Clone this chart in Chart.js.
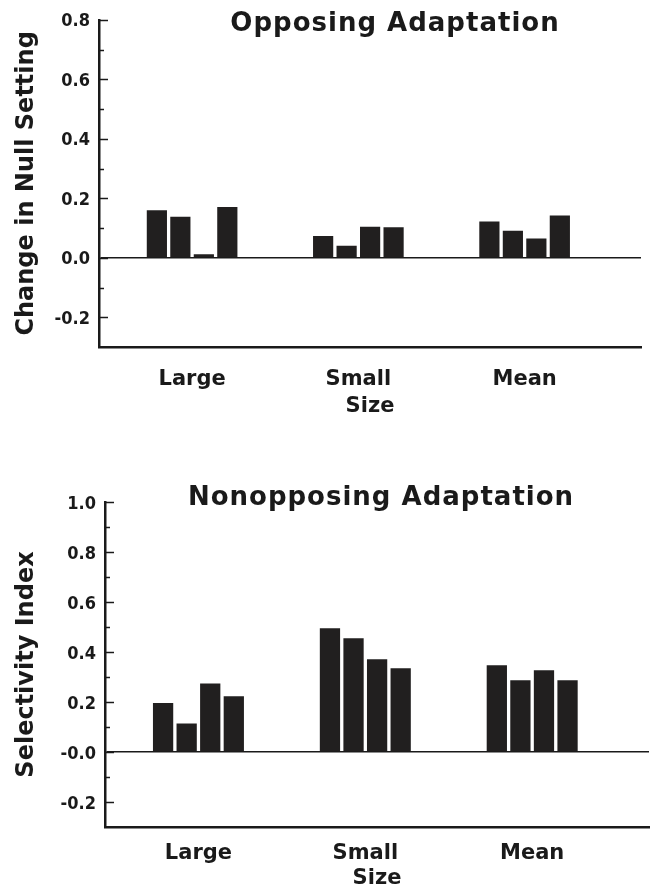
<!DOCTYPE html>
<html>
<head>
<meta charset="utf-8">
<title>Opposing and Nonopposing Adaptation</title>
<script src="https://cdn.jsdelivr.net/npm/chart.js@4.4.1/dist/chart.umd.min.js"></script>
<style>
  html, body { margin: 0; padding: 0; background: #fff; }
  body { width: 652px; height: 896px; position: relative; overflow: hidden; }
  .panel { position: absolute; left: 0; width: 652px; }
  #topPanel { top: 0; height: 440px; }
  #bottomPanel { top: 440px; height: 456px; }
</style>
</head>
<body>
<div class="panel" id="topPanel"><canvas id="opposingChart" width="652" height="440"></canvas></div>
<div class="panel" id="bottomPanel"><canvas id="nonopposingChart" width="652" height="456"></canvas></div>
<script>
// x categories and the four bars drawn in each group
const sizes = ['Large', 'Small', 'Mean'];
const observers = ['Observer 1', 'Observer 2', 'Observer 3', 'Observer 4'];

// Opposing adaptation - change in null setting
const opposing1 = [0.160, 0.073, 0.122];
const opposing2 = [0.138, 0.040, 0.091];
const opposing3 = [0.012, 0.104, 0.065];
const opposing4 = [0.171, 0.103, 0.142];

// Nonopposing adaptation - selectivity index
const nonopposing1 = [0.196, 0.495, 0.347];
const nonopposing2 = [0.114, 0.455, 0.287];
const nonopposing3 = [0.274, 0.371, 0.327];
const nonopposing4 = [0.223, 0.335, 0.287];

// y axis ticks
const opposingTicks = [-0.2, 0.0, 0.2, 0.4, 0.6, 0.8];
const opposingTickLabels = ['-0.2', '0.0', '0.2', '0.4', '0.6', '0.8'];
const opposingMinorTicks = [-0.1, 0.1, 0.3, 0.5, 0.7];
const nonopposingTicks = [-0.2, 0.0, 0.2, 0.4, 0.6, 0.8, 1.0];
const nonopposingTickLabels = ['-0.2', '-0.0', '0.2', '0.4', '0.6', '0.8', '1.0'];
const nonopposingMinorTicks = [-0.1, 0.1, 0.3, 0.5, 0.7, 0.9];

const ink = '#1a1a1a';
const barColor = '#211f1f';

Chart.defaults.font.family = '"DejaVu Sans", sans-serif';
Chart.defaults.font.weight = 'bold';
Chart.defaults.color = ink;

// small tick marks pointing into the plot, long for labelled values
const inwardTicks = {
    id: 'inwardTicks',
    afterDatasetsDraw(chart) {
        const y = chart.scales.y;
        const left = chart.chartArea.left;
        const ctx = chart.ctx;
        ctx.save();
        ctx.strokeStyle = ink;
        ctx.lineWidth = 1.5;
        y.ticks.forEach(t => {
            const major = t.label !== '' && t.label != null;
            const py = Math.round(y.getPixelForValue(t.value)) + 0.5;
            ctx.beginPath();
            ctx.moveTo(left, py);
            ctx.lineTo(left + (major ? 9 : 5), py);
            ctx.stroke();
        });
        ctx.restore();
    }
};

// panel heading drawn inside the plot area
const panelTitle = {
    id: 'panelTitle',
    afterDraw(chart, args, opts) {
        const ctx = chart.ctx;
        ctx.save();
        ctx.font = 'bold 26px "DejaVu Sans"';
        if ('letterSpacing' in ctx) ctx.letterSpacing = '1px';
        ctx.fillStyle = ink;
        ctx.textAlign = 'center';
        ctx.textBaseline = 'middle';
        ctx.fillText(opts.text, opts.x, opts.y);
        ctx.restore();
    }
};

function tickLabel(majors, labels) {
    return function(value) {
        const i = majors.findIndex(m => Math.abs(m - value) < 1e-9);
        return i >= 0 ? labels[i] : '';
    };
}

function buildChart(id, o) {
    const datasets = observers.map((name, k) => ({
        label: name,
        data: o.series[k].map((v, i) => ({ x: i, y: v })),
        backgroundColor: barColor,
        borderWidth: 0,
        categoryPercentage: 0.565,
        barPercentage: 0.86
    }));

    return new Chart(document.getElementById(id), {
        type: 'bar',
        data: { datasets: datasets },
        plugins: [inwardTicks, panelTitle],
        options: {
            responsive: false,
            animation: false,
            layout: { padding: o.padding },
            plugins: {
                legend: { display: false },
                tooltip: { enabled: false },
                panelTitle: { text: o.title, x: o.titleX, y: o.titleY }
            },
            scales: {
                x: {
                    type: 'linear',
                    min: -0.56,
                    max: 2.7,
                    offset: false,
                    afterBuildTicks: s => { s.ticks = sizes.map((c, i) => ({ value: i })); },
                    afterFit: s => { s.height = o.xHeight; },
                    ticks: {
                        callback: v => sizes[v],
                        font: { size: 21 },
                        padding: o.xTickPad,
                        autoSkip: false,
                        maxRotation: 0,
                        color: ink
                    },
                    grid: { drawOnChartArea: false, drawTicks: false, color: 'rgba(0,0,0,0)' },
                    border: { display: true, color: ink, width: 2.5 },
                    title: {
                        display: true,
                        text: 'Size',
                        font: { size: 21 },
                        color: ink,
                        padding: { top: 0, bottom: o.xTitlePad }
                    }
                },
                y: {
                    min: o.yMin,
                    max: o.yMax,
                    afterBuildTicks: s => {
                        s.ticks = o.majors.concat(o.minors).sort((a, b) => a - b).map(v => ({ value: v }));
                    },
                    afterFit: s => { s.width = o.yWidth; },
                    ticks: {
                        callback: tickLabel(o.majors, o.labels),
                        font: { family: '"DejaVu Sans Condensed", "DejaVu Sans", sans-serif', size: 18 },
                        padding: 9,
                        labelOffset: 2,
                        autoSkip: false,
                        color: ink
                    },
                    grid: {
                        drawTicks: false,
                        color: c => Math.abs(c.tick.value) < 1e-9 ? ink : 'rgba(0,0,0,0)',
                        lineWidth: 1.5
                    },
                    border: { display: true, color: ink, width: 2.5 },
                    title: {
                        display: true,
                        text: o.yTitle,
                        font: { size: 24 },
                        color: ink,
                        padding: { top: 12, bottom: 0 }
                    }
                }
            }
        }
    });
}

buildChart('opposingChart', {
    title: 'Opposing Adaptation',
    titleX: 395, titleY: 24,
    yTitle: 'Change in Null Setting',
    series: [opposing1, opposing2, opposing3, opposing4],
    majors: opposingTicks, labels: opposingTickLabels, minors: opposingMinorTicks,
    yMin: -0.3, yMax: 0.8,
    padding: { left: 0, top: 13, right: 11, bottom: 0 },
    yWidth: 99, xHeight: 93, xTickPad: 20, xTitlePad: 21
});

buildChart('nonopposingChart', {
    title: 'Nonopposing Adaptation',
    titleX: 381, titleY: 58,
    yTitle: 'Selectivity Index',
    series: [nonopposing1, nonopposing2, nonopposing3, nonopposing4],
    majors: nonopposingTicks, labels: nonopposingTickLabels, minors: nonopposingMinorTicks,
    yMin: -0.3, yMax: 1.0,
    padding: { left: 0, top: 62, right: 3, bottom: 0 },
    yWidth: 105, xHeight: 69, xTickPad: 14, xTitlePad: 5
});
</script>
</body>
</html>
